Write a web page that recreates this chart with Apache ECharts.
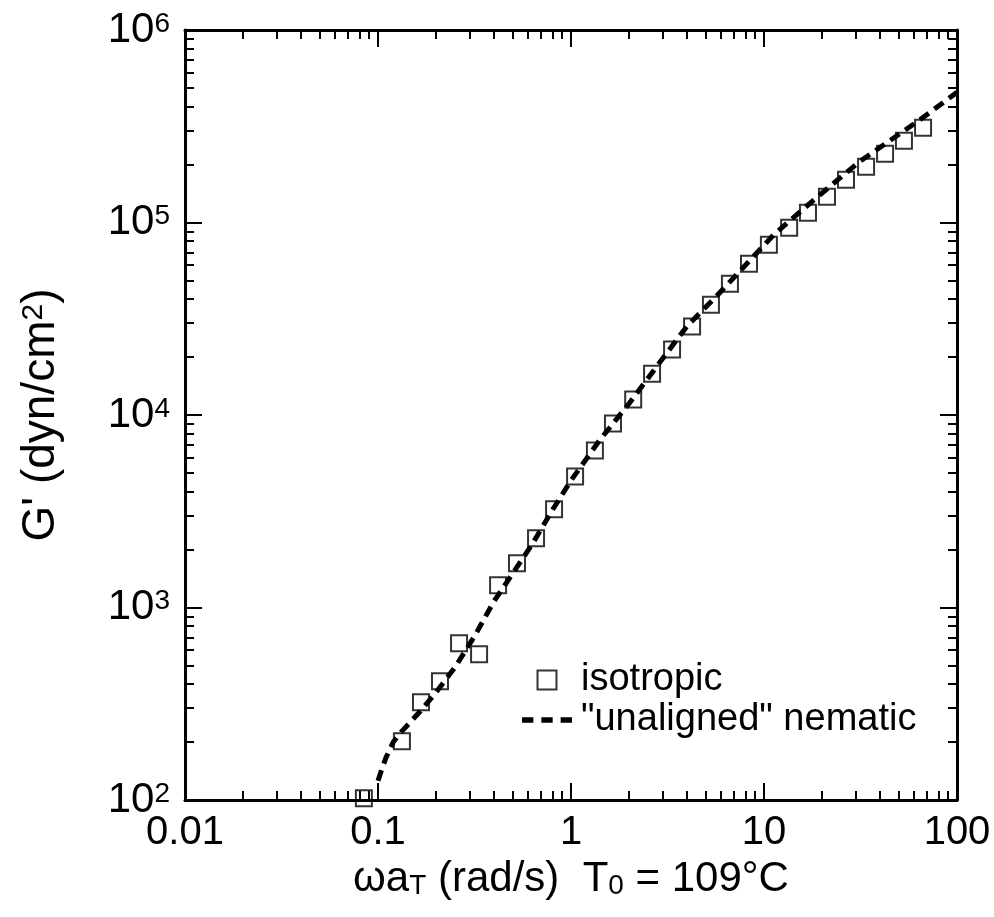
<!DOCTYPE html>
<html>
<head>
<meta charset="utf-8">
<script src="https://cdn.jsdelivr.net/npm/echarts@6/dist/echarts.min.js"></script>
<style>
html,body{margin:0;padding:0;background:#fff;}
#chart{width:994px;height:917px;}
</style>
</head>
<body>
<div id="chart"></div>
<script>
// ---- data ----
const xTickValues = [0.01, 0.1, 1, 10, 100];
const xTickLabels = ['0.01', '0.1', '1', '10', '100'];
const yTickValues = [1e2, 1e3, 1e4, 1e5, 1e6];
const yTickExponents = ['2', '3', '4', '5', '6'];
const minorMultipliers = [2, 3, 4, 5, 6, 7, 8, 9];

// isotropic (squares)
const isoX = [0.0845, 0.133, 0.167, 0.2095, 0.263, 0.334, 0.419, 0.525, 0.659, 0.817,
              1.05, 1.33, 1.65, 2.10, 2.63, 3.34, 4.24, 5.31, 6.66, 8.36,
              10.6, 13.5, 16.9, 21.2, 26.6, 33.8, 42.4, 53.1, 66.7];
const isoY = [102, 202, 322, 414, 653, 571, 1303, 1698, 2287, 3236,
              4797, 6546, 9036, 12030, 16400, 21870, 28790, 37420, 48080, 61080,
              76700, 94000, 112400, 136100, 166700, 194600, 227400, 265500, 310400];

// "unaligned" nematic (dashed curve)
const nemX = [0.1, 0.105, 0.11, 0.12, 0.132, 0.145, 0.166, 0.2, 0.251, 0.316, 0.398, 0.501,
              0.631, 0.794, 1.0, 1.41, 2.0, 2.82, 3.98, 5.62, 7.94, 11.2,
              15.8, 22.4, 31.6, 44.7, 63.1, 100];
const nemY = [126, 146, 166, 200, 226, 250, 290, 363, 490, 708, 1072, 1514,
              2138, 3162, 4571, 7413, 11480, 18200, 28840, 41020, 59430, 86100,
              116400, 156700, 208900, 265500, 337300, 474200];

// ---- helpers ----
const FONT = "'Liberation Sans', Arial, Helvetica, sans-serif";
function minorTicks(lo, hi) {
  const out = [];
  for (let d = lo; d < hi; d *= 10) minorMultipliers.forEach(m => out.push(+(m * d).toPrecision(6)));
  return out;
}
function idxOf(arr, v) {
  return arr.findIndex(t => Math.abs(Math.log10(t) - Math.log10(v)) < 1e-6);
}
const xMinor = minorTicks(0.01, 100);
const yMinor = minorTicks(100, 1e6);

const axisLineStyle = { show: true, lineStyle: { color: '#000', width: 3 } };
const majorLen = 17, minorLen = 9;

function xAxisDef(pos, major, withLabels) {
  const a = {
    type: 'log', logBase: 10, min: 0.01, max: 100, position: pos, gridIndex: 0,
    axisLine: major ? axisLineStyle : { show: false },
    splitLine: { show: false },
    axisTick: {
      show: true, inside: true, length: major ? majorLen : minorLen,
      lineStyle: { color: '#000', width: 2 },
      customValues: major ? xTickValues : xMinor
    },
    axisLabel: { show: false },
    silent: true
  };
  if (withLabels) {
    a.axisLabel = {
      show: true, margin: 13, color: '#000', fontFamily: FONT, fontSize: 40,
      customValues: xTickValues,
      formatter: v => { const i = idxOf(xTickValues, v); return i >= 0 ? xTickLabels[i] : ''; }
    };
    a.name = '{t|ωa}{sub|T}{t| (rad/s)  T}{sub|0}{t| = 109°C}';
    a.nameLocation = 'middle';
    a.nameGap = 58;
    a.nameTextStyle = {
      fontFamily: FONT, color: '#000',
      rich: {
        t: { fontSize: 42, lineHeight: 42, fontFamily: FONT, color: '#000' },
        sub: { fontSize: 28, lineHeight: 10, verticalAlign: 'bottom', fontFamily: FONT, color: '#000' }
      }
    };
  }
  return a;
}
function yAxisDef(pos, major, withLabels) {
  const a = {
    type: 'log', logBase: 10, min: 100, max: 1e6, position: pos, gridIndex: 0,
    axisLine: major ? axisLineStyle : { show: false },
    splitLine: { show: false },
    axisTick: {
      show: true, inside: true, length: major ? majorLen : minorLen,
      lineStyle: { color: '#000', width: 2 },
      customValues: major ? yTickValues : yMinor
    },
    axisLabel: { show: false },
    silent: true
  };
  if (withLabels) {
    a.axisLabel = {
      show: true, margin: 15, color: '#000', fontFamily: FONT,
      customValues: yTickValues,
      formatter: v => { const i = idxOf(yTickValues, v); return i >= 0 ? '{b|10}{s|' + yTickExponents[i] + '}' : ''; },
      rich: {
        b: { fontSize: 42, lineHeight: 40, fontFamily: FONT, color: '#000' },
        s: { fontSize: 28, lineHeight: 14, verticalAlign: 'top', fontFamily: FONT, color: '#000' }
      }
    };
    a.name = "{t|G' (dyn/cm}{sup|2}{t|)}";
    a.nameLocation = 'middle';
    a.nameGap = 122;
    a.nameTextStyle = {
      fontFamily: FONT, color: '#000',
      rich: {
        t: { fontSize: 46, lineHeight: 44, fontFamily: FONT, color: '#000' },
        sup: { fontSize: 30, lineHeight: 14, verticalAlign: 'top', fontFamily: FONT, color: '#000' }
      }
    };
  }
  return a;
}

const squareIcon = 'path://M0,0L10,0L10,10L0,10Z';
const dashIcon = 'path://M0,0H10V5H0Z M17,0H27V5H17Z M34,0H44V5H34Z';

const chart = echarts.init(document.getElementById('chart'), null, { renderer: 'canvas' });
chart.setOption({
  animation: false,
  backgroundColor: '#fff',
  grid: { left: 185, right: 37, top: 30, bottom: 117, containLabel: false },
  xAxis: [
    xAxisDef('bottom', true, true),
    xAxisDef('bottom', false, false),
    xAxisDef('top', true, false),
    xAxisDef('top', false, false)
  ],
  yAxis: [
    yAxisDef('left', true, true),
    yAxisDef('left', false, false),
    yAxisDef('right', true, false),
    yAxisDef('right', false, false)
  ],
  legend: {
    orient: 'vertical', left: 517, top: 656,
    itemWidth: 50, itemHeight: 19, itemGap: 2,
    symbolKeepAspect: true,
    selectedMode: false,
    textStyle: { fontFamily: FONT, fontSize: 38, color: '#000', padding: [0, 0, 0, 4] },
    data: [
      { name: 'isotropic', icon: squareIcon,
        itemStyle: { color: 'rgba(0,0,0,0)', borderColor: '#000', borderWidth: 2 } },
      { name: '"unaligned" nematic', icon: dashIcon,
        itemStyle: { color: '#000', borderWidth: 0 } }
    ]
  },
  series: [
    {
      type: 'line', name: '"unaligned" nematic', xAxisIndex: 0, yAxisIndex: 0,
      data: nemX.map((x, i) => [x, nemY[i]]),
      symbol: 'none', showSymbol: false, smooth: false,
      lineStyle: { color: '#000', width: 5, type: [11, 7], cap: 'butt' },
      itemStyle: { color: '#000' },
      z: 2
    },
    {
      type: 'scatter', name: 'isotropic', xAxisIndex: 0, yAxisIndex: 0,
      data: isoX.map((x, i) => [x, isoY[i]]),
      symbol: 'rect', symbolSize: 16,
      itemStyle: { color: 'rgba(0,0,0,0)', borderColor: '#000', borderWidth: 2 },
      z: 3
    }
  ]
});
</script>
</body>
</html>
